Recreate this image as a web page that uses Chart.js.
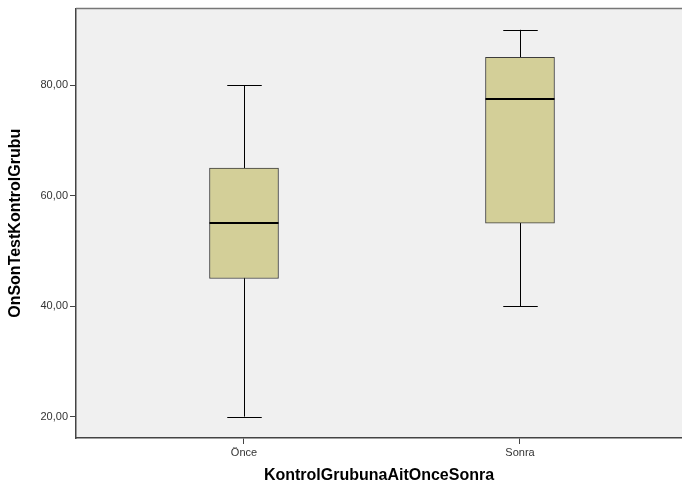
<!DOCTYPE html>
<html>
<head>
<meta charset="utf-8">
<script src="https://cdn.jsdelivr.net/npm/chart.js@4/dist/chart.umd.min.js"></script>
<style>
  html, body { margin: 0; padding: 0; background: #fff; overflow: hidden; }
  #wrap { width: 682px; height: 490px; }
</style>
</head>
<body>
<div id="wrap"><canvas id="box"></canvas></div>
<script>
// box plot summary per group
const groups = ['Önce', 'Sonra'];
const whiskerLow = [20, 40];
const q1 = [45, 55];
const median = [55, 77.5];
const q3 = [65, 85];
const whiskerHigh = [80, 90];
const yTicks = [20, 40, 60, 80];

const FONT = "'Liberation Sans', Arial, sans-serif";

// plot background + top frame line
const framePlugin = {
  id: 'frame',
  beforeDraw(chart) {
    const { ctx, chartArea: a } = chart;
    ctx.save();
    ctx.fillStyle = '#f0f0f0';
    ctx.fillRect(a.left, a.top, a.right - a.left, a.bottom - a.top);
    ctx.restore();
  },
  afterDraw(chart) {
    const { ctx, chartArea: a } = chart;
    ctx.save();
    ctx.strokeStyle = '#777';
    ctx.lineWidth = 1.5;
    ctx.beginPath();
    ctx.moveTo(a.left, a.top);
    ctx.lineTo(a.right, a.top);
    ctx.stroke();
    ctx.restore();
  }
};

// whiskers and medians, drawn from the scales
const whiskerPlugin = {
  id: 'whiskers',
  beforeDatasetsDraw(chart) {
    const { ctx, scales: { x, y } } = chart;
    const meta = chart.getDatasetMeta(0);
    ctx.save();
    ctx.strokeStyle = '#000';
    ctx.lineWidth = 1;
    groups.forEach((g, i) => {
      const cx = Math.round(x.getPixelForValue(i)) + 0.5;
      const half = meta.data[i].width / 4;
      const lo = y.getPixelForValue(whiskerLow[i]);
      const hi = y.getPixelForValue(whiskerHigh[i]);
      ctx.beginPath();
      ctx.moveTo(cx, lo);
      ctx.lineTo(cx, hi);
      ctx.moveTo(cx - half, Math.round(lo) + 0.5);
      ctx.lineTo(cx + half, Math.round(lo) + 0.5);
      ctx.moveTo(cx - half, Math.round(hi) + 0.5);
      ctx.lineTo(cx + half, Math.round(hi) + 0.5);
      ctx.stroke();
    });
    ctx.restore();
  },
  afterDatasetsDraw(chart) {
    const { ctx, scales: { y } } = chart;
    const meta = chart.getDatasetMeta(0);
    ctx.save();
    ctx.strokeStyle = '#000';
    ctx.lineWidth = 2;
    groups.forEach((g, i) => {
      const bar = meta.data[i];
      const my = Math.round(y.getPixelForValue(median[i]));
      ctx.beginPath();
      ctx.moveTo(bar.x - bar.width / 2, my);
      ctx.lineTo(bar.x + bar.width / 2, my);
      ctx.stroke();
    });
    ctx.restore();
  }
};

new Chart(document.getElementById('box'), {
  type: 'bar',
  data: {
    datasets: [{
      data: groups.map((g, i) => ({ x: i, y: [q1[i], q3[i]] })),
      backgroundColor: '#d3cf98',
      borderColor: '#3c3c3c',
      borderWidth: 1,
      borderSkipped: false,
      barThickness: 69,
    }],
  },
  options: {
    responsive: true,
    maintainAspectRatio: false,
    animation: false,
    layout: { padding: { top: 4, right: 0, left: 0, bottom: 0 } },
    plugins: {
      legend: { display: false },
      tooltip: { enabled: false },
    },
    scales: {
      x: {
        type: 'linear',
        offset: false,
        min: -0.6087,
        max: 1.587,
        afterBuildTicks: (s) => { s.ticks = groups.map((g, i) => ({ value: i })); },
        afterFit: (s) => { s.height = 52; },
        ticks: {
          callback: (v) => groups[v],
          color: '#333',
          font: { family: FONT, size: 11 },
          padding: 2,
          maxRotation: 0,
        },
        grid: { offset: false, drawOnChartArea: false, drawTicks: true, tickLength: 6, color: '#444' },
        border: { color: '#444', width: 1.5 },
        title: {
          display: true,
          text: 'KontrolGrubunaAitOnceSonra',
          color: '#000',
          font: { family: FONT, size: 16, weight: 'bold' },
          padding: { top: 0, bottom: 5 },
        },
      },
      y: {
        min: 16.13,
        max: 93.84,
        afterBuildTicks: (s) => { s.ticks = yTicks.map((v) => ({ value: v })); },
        afterFit: (s) => { s.width = 76; },
        ticks: {
          callback: (v) => v.toFixed(2).replace('.', ','),
          color: '#333',
          font: { family: FONT, size: 11 },
          padding: 2,
        },
        grid: { drawOnChartArea: false, drawTicks: true, tickLength: 6, color: '#444' },
        border: { color: '#444', width: 1.5 },
        title: {
          display: true,
          text: 'OnSonTestKontrolGrubu',
          color: '#000',
          font: { family: FONT, size: 16, weight: 'bold' },
          padding: { top: 6, bottom: 0 },
        },
      },
    },
  },
  plugins: [framePlugin, whiskerPlugin],
});
</script>
</body>
</html>
